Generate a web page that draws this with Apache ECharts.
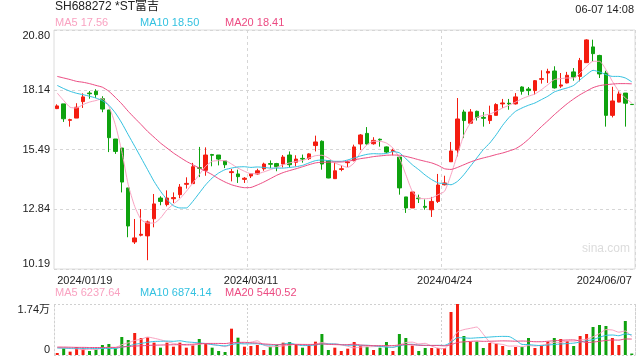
<!DOCTYPE html>
<html><head><meta charset="utf-8">
<script src="https://cdn.jsdelivr.net/npm/echarts@6/dist/echarts.min.js"></script>
<style>html,body{margin:0;padding:0;background:#fff}#c{width:640px;height:360px}</style>
</head><body><div id="c"></div>
<script>
const stockTitle = 'SH688272 *ST富吉';
const timeStamp = '06-07 14:08';
const dates = ['2024/01/19',
'2024/01/22','2024/01/23','2024/01/24','2024/01/25','2024/01/26',
'2024/01/29','2024/01/30','2024/01/31','2024/02/01','2024/02/02',
'2024/02/05','2024/02/06','2024/02/07','2024/02/08',
'2024/02/19','2024/02/20','2024/02/21','2024/02/22','2024/02/23',
'2024/02/26','2024/02/27','2024/02/28','2024/02/29','2024/03/01',
'2024/03/04','2024/03/05','2024/03/06','2024/03/07','2024/03/08',
'2024/03/11','2024/03/12','2024/03/13','2024/03/14','2024/03/15',
'2024/03/18','2024/03/19','2024/03/20','2024/03/21','2024/03/22',
'2024/03/25','2024/03/26','2024/03/27','2024/03/28','2024/03/29',
'2024/04/01','2024/04/02','2024/04/03',
'2024/04/08','2024/04/09','2024/04/10','2024/04/11','2024/04/12',
'2024/04/15','2024/04/16','2024/04/17','2024/04/18','2024/04/19',
'2024/04/22','2024/04/23','2024/04/24','2024/04/25','2024/04/26',
'2024/04/29','2024/04/30',
'2024/05/06','2024/05/07','2024/05/08','2024/05/09','2024/05/10',
'2024/05/13','2024/05/14','2024/05/15','2024/05/16','2024/05/17',
'2024/05/20','2024/05/21','2024/05/22','2024/05/23','2024/05/24',
'2024/05/27','2024/05/28','2024/05/29','2024/05/30','2024/05/31',
'2024/06/03','2024/06/04','2024/06/05','2024/06/06','2024/06/07'];
const xLabelDates = ['2024/01/19','2024/03/11','2024/04/24','2024/06/07'];
const xLineDates = ['2024/03/11','2024/04/24'];

const opens = [17.31,17.52,16.79,16.89,17.62,18.00,18.08,17.75,17.25,15.96,
15.56,13.79,11.39,11.69,11.66,12.42,13.34,13.05,13.31,13.49,
13.95,13.98,14.69,14.57,15.27,15.25,14.99,14.47,14.41,14.17,
14.32,14.41,14.64,14.87,14.87,14.85,15.25,14.93,15.10,15.09,
15.67,15.86,15.00,14.20,14.61,14.91,15.00,15.74,16.21,15.75,
15.95,15.61,15.41,15.16,13.39,12.90,13.34,12.97,12.82,13.19,
13.93,14.95,15.47,17.16,16.66,17.19,16.92,16.78,17.01,17.52,
17.55,17.52,18.27,18.18,18.11,18.61,18.89,18.98,18.31,18.45,
18.94,18.74,19.35,20.05,19.67,18.89,17.01,17.60,18.00,17.50];
const closes = [17.43,16.86,16.82,17.37,17.83,17.97,17.93,17.29,16.02,15.41,
14.05,12.10,11.57,11.73,12.28,13.08,13.19,13.34,13.36,13.83,
13.99,14.73,14.66,15.25,15.24,15.07,14.82,14.51,14.29,14.22,
14.42,14.55,14.85,14.84,14.73,15.16,14.82,15.07,15.07,15.30,
15.83,14.85,14.23,14.55,14.64,14.94,15.61,16.14,15.74,15.90,
15.92,15.38,15.46,13.79,12.90,13.61,13.31,12.93,13.19,13.92,
14.01,15.43,16.85,16.78,17.16,16.92,16.88,17.01,17.49,17.56,
17.52,17.83,18.08,18.11,18.55,18.64,18.96,18.23,18.36,18.79,
18.71,19.45,20.36,19.75,18.85,17.01,17.65,17.96,17.55,17.49];
const lows = [17.29,16.72,16.51,16.89,17.34,17.75,17.78,17.15,15.38,15.30,
13.59,11.60,11.30,11.64,10.58,12.04,13.02,12.97,13.12,13.34,
13.76,13.98,14.27,14.33,14.75,14.79,14.67,14.08,14.01,14.01,
14.23,14.38,14.55,14.67,14.53,14.70,14.70,14.75,14.91,15.03,
15.41,14.60,14.22,14.20,14.53,14.72,14.97,15.47,15.71,15.71,
15.62,15.33,15.24,13.49,12.68,12.90,13.12,12.82,12.50,13.12,
13.90,14.94,15.19,16.00,16.66,16.78,16.51,16.63,17.01,17.34,
17.26,17.49,17.93,17.90,17.93,18.42,18.45,18.20,18.23,18.43,
18.55,18.52,19.35,19.41,18.67,16.51,16.92,17.59,16.51,17.49];
const highs = [17.50,17.52,16.86,17.55,17.99,18.09,18.17,17.86,17.25,15.96,
15.56,13.79,12.41,12.85,12.34,13.52,13.42,13.68,13.59,13.96,
14.26,14.90,15.61,15.59,15.30,15.25,15.01,14.63,14.60,14.27,
14.45,14.64,14.91,15.01,14.90,15.25,15.41,15.24,15.27,15.33,
16.11,15.90,15.00,14.90,14.79,15.00,15.71,16.18,16.49,16.04,
15.98,15.63,15.53,15.16,13.39,13.64,13.49,13.28,13.39,14.41,
14.33,15.83,17.78,17.26,17.29,17.22,17.16,17.44,17.55,17.74,
17.74,18.00,18.30,18.27,18.58,19.01,19.08,19.19,18.89,18.94,
19.11,19.56,20.39,20.37,19.70,18.99,18.28,18.08,18.00,17.50];

const ma5 = [18.00,17.67,17.37,17.34,17.49,17.60,17.67,17.75,17.41,16.60,
15.41,13.93,12.97,12.38,12.23,12.23,12.45,12.82,13.07,13.31,
13.64,14.01,14.38,14.75,14.97,15.00,15.00,14.85,14.67,14.53,
14.42,14.42,14.50,14.60,14.70,14.82,14.90,14.97,15.01,15.12,
15.22,15.24,15.12,14.90,14.79,14.70,14.90,15.38,15.71,15.86,
15.86,15.78,15.56,15.12,14.38,13.64,13.34,13.31,13.34,13.49,
13.64,14.38,15.27,16.15,16.67,16.92,17.01,17.07,17.19,17.34,
17.46,17.60,17.75,17.86,17.96,18.15,18.37,18.60,18.64,18.67,
18.67,18.89,19.19,19.41,19.41,19.04,18.52,18.08,17.78,17.56];
const ma10 = [18.34,18.20,18.08,17.99,17.93,17.86,17.78,17.66,17.46,17.12,
16.67,16.15,15.64,15.12,14.60,14.08,13.64,13.27,13.00,12.90,
12.90,13.19,13.56,13.93,14.23,14.45,14.60,14.67,14.72,14.73,
14.70,14.72,14.70,14.67,14.67,14.67,14.70,14.73,14.79,14.90,
15.00,15.03,15.00,14.97,14.97,15.03,15.12,15.21,15.28,15.31,
15.30,15.32,15.40,15.35,15.09,14.82,14.60,14.36,14.16,14.01,
13.98,13.93,14.08,14.38,14.75,15.12,15.49,15.78,16.15,16.57,
16.92,17.19,17.34,17.46,17.56,17.71,17.86,18.05,18.15,18.23,
18.34,18.59,18.82,19.01,18.94,18.82,18.74,18.74,18.67,18.50];
const ma20 = [18.74,18.67,18.60,18.52,18.48,18.42,18.34,18.26,18.08,17.81,
17.52,17.19,16.89,16.60,16.30,16.04,15.78,15.56,15.34,15.15,
14.97,14.82,14.67,14.53,14.38,14.20,14.05,13.93,13.85,13.80,
13.81,13.92,14.05,14.20,14.35,14.47,14.56,14.64,14.73,14.82,
14.90,14.93,14.93,14.94,14.94,14.97,15.03,15.09,15.13,15.18,
15.21,15.24,15.25,15.24,15.19,15.12,15.04,14.97,14.90,14.79,
14.64,14.61,14.70,14.82,14.94,15.04,15.12,15.19,15.27,15.34,
15.43,15.53,15.71,15.95,16.23,16.51,16.77,17.04,17.29,17.53,
17.74,17.93,18.09,18.24,18.33,18.37,18.40,18.42,18.42,18.41];

const volumes = [680,2270,1140,2730,2270,1360,1930,3410,3750,2270,
6140,5120,7500,5800,6030,4210,2500,4210,2840,4210,
2500,3300,5460,3870,2500,1360,1020,8980,5910,2840,
3070,3410,1710,2840,3410,4210,4430,3640,2500,3300,
4550,7160,1710,2500,1360,2160,4430,3180,2840,1710,
2500,4430,1360,7160,5800,3180,1360,2390,2390,2390,
2390,14670,17400,6480,4550,4550,2390,4090,3870,3070,
1710,2730,2730,5800,2390,3180,4550,5800,5460,4780,
3070,6480,7160,9550,10230,9890,5800,3410,11600,500];
const volMa5 = [2500,2400,2200,2100,1820,1960,1890,2340,2550,2550,
3500,4140,4960,5370,6120,5730,5210,4550,3960,3590,
3250,3410,3660,3870,3530,3300,2840,3550,3960,4030,
4370,4840,3390,2780,2890,3120,3320,3710,3640,3620,
3680,4230,3840,3840,3460,2980,2430,2730,2800,2870,
2930,2930,2570,3430,4250,4390,3780,3980,3030,2340,
2180,4840,7850,8670,9100,9530,7070,4410,3890,3590,
3030,3090,2820,3210,3070,3370,3730,4340,4280,4750,
4730,5120,5390,6210,7300,8660,8530,7780,8190,6237.64];
const volMa10 = [2400,2350,2300,2300,2250,2250,2200,2200,2200,2180,
2730,3010,3650,3960,4330,4620,4670,4750,4660,4860,
4490,4310,4110,3910,3560,3280,3130,3600,3910,3780,
3830,3840,3470,3370,3460,3740,4080,3550,3210,3250,
3400,3780,3780,3740,3540,3330,3330,3290,3320,3160,
2960,2680,2650,3120,3560,3660,3360,3280,3230,3300,
3290,4310,5910,5850,5720,5860,5960,6130,6280,6350,
6280,5080,3620,3550,3330,3200,3410,3580,3740,3910,
4050,4420,4870,5240,6030,6700,6820,6580,7200,6874.14];
const volMa20 = [2700,2700,2650,2600,2600,2550,2550,2550,2600,2600,
2750,2900,3050,3150,3250,3350,3400,3450,3500,3520,
3610,3660,3880,3940,3950,3950,3900,4180,4290,4320,
4160,4080,3790,3640,3510,3510,3610,3580,3560,3510,
3620,3810,3620,3550,3500,3540,3710,3420,3260,3210,
3180,3230,3210,3430,3550,3500,3340,3280,3280,3230,
3120,3500,4280,4480,4640,4760,4660,4700,4750,4820,
4780,4700,4770,4700,4530,4530,4690,4860,5010,5130,
5160,4750,4240,4400,4680,4950,5120,5080,5470,5440.52];
const priceTicks = [10.19, 12.84, 15.49, 18.14, 20.80];
const volTicks = [0, 17400];
const volTickLabels = ['0', '1.74万'];

const RED = '#f41c10', GREEN = '#0ea20e';
const C5 = '#f9a2c1', C10 = '#33c1e0', C20 = '#ec4b82';
const FONT = "'Liberation Sans','Noto Sans CJK SC',sans-serif";

const chart = echarts.init(document.getElementById('c'), null, {renderer: 'canvas'});
const last = dates.length - 1;
const txt = (left, top, text, color, size) => ({type: 'text', left, top,
  style: {text, fill: color, font: size + 'px ' + FONT}});

chart.setOption({
  animation: false,
  backgroundColor: '#fff',
  grid: [
    {left: 54, right: 5, top: 30, height: 239, show: true, borderColor: '#dcdcdc', borderWidth: 1},
    {left: 54, right: 5, top: 304, height: 51}
  ],
  xAxis: [
    {gridIndex: 0, type: 'category', data: dates, boundaryGap: true,
     axisLine: {show: false}, axisTick: {show: false},
     axisLabel: {show: true, color: '#222', fontSize: 11, fontFamily: FONT, margin: 6,
       interval: (i, v) => xLabelDates.includes(v),
       alignMinLabel: 'left', alignMaxLabel: 'right'},
     splitLine: {show: true, interval: (i, v) => xLineDates.includes(v),
       lineStyle: {color: '#d6d6d6', type: [3, 3]}}},
    {gridIndex: 1, type: 'category', data: dates, boundaryGap: true,
     axisLine: {show: false}, axisTick: {show: false}, axisLabel: {show: false},
     splitLine: {show: true, interval: (i, v) => xLineDates.includes(v),
       lineStyle: {color: '#d0d0d0', type: [2, 2]}}}
  ],
  yAxis: [
    {gridIndex: 0, type: 'value', min: priceTicks[0], max: priceTicks[priceTicks.length - 1],
     interval: (priceTicks[priceTicks.length - 1] - priceTicks[0]) / (priceTicks.length - 1),
     axisLine: {show: false}, axisTick: {show: false},
     splitLine: {show: true, lineStyle: {color: '#d6d6d6', type: [3, 3]}},
     axisLabel: {color: '#222', fontSize: 11, fontFamily: FONT, margin: 4,
       verticalAlignMinLabel: 'bottom', verticalAlignMaxLabel: 'top',
       formatter: v => { const t = priceTicks.find(p => Math.abs(p - v) < 0.05); return t === undefined ? '' : t.toFixed(2); }}},
    {gridIndex: 1, type: 'value', min: volTicks[0], max: volTicks[1], interval: volTicks[1] - volTicks[0],
     axisLine: {show: true, lineStyle: {color: '#d0d0d0', type: [2, 2]}}, axisTick: {show: false},
     splitLine: {show: true, lineStyle: {color: '#d0d0d0', type: [2, 2]}},
     axisLabel: {color: '#222', fontSize: 11, fontFamily: FONT, margin: 4,
       verticalAlignMinLabel: 'bottom', verticalAlignMaxLabel: 'top',
       formatter: v => (Math.abs(v - volTicks[0]) < 1 ? volTickLabels[0] : volTickLabels[1])}},
    {gridIndex: 1, type: 'value', position: 'right', min: volTicks[0], max: volTicks[1],
     axisLine: {show: true, lineStyle: {color: '#d0d0d0', type: [2, 2]}}, axisTick: {show: false},
     axisLabel: {show: false}, splitLine: {show: false}}
  ],
  series: [
    {type: 'candlestick', xAxisIndex: 0, yAxisIndex: 0, barWidth: 4,
     data: dates.map((d, i) => [opens[i], closes[i], lows[i], highs[i]]),
     itemStyle: {color: RED, color0: GREEN, borderColor: RED, borderColor0: GREEN, borderWidth: 1}},
    {type: 'line', xAxisIndex: 0, yAxisIndex: 0, data: ma5, showSymbol: false, smooth: 0.2,
     lineStyle: {width: 1, color: C5}},
    {type: 'line', xAxisIndex: 0, yAxisIndex: 0, data: ma10, showSymbol: false, smooth: 0.2,
     lineStyle: {width: 1, color: C10}},
    {type: 'line', xAxisIndex: 0, yAxisIndex: 0, data: ma20, showSymbol: false, smooth: 0.2,
     lineStyle: {width: 1, color: C20}},
    {type: 'bar', xAxisIndex: 1, yAxisIndex: 1, barWidth: 3,
     data: volumes.map((v, i) => ({value: v, itemStyle: {color: closes[i] >= opens[i] ? RED : GREEN}}))},
    {type: 'line', xAxisIndex: 1, yAxisIndex: 1, data: volMa5, showSymbol: false, smooth: 0.2,
     lineStyle: {width: 1, color: C5}},
    {type: 'line', xAxisIndex: 1, yAxisIndex: 1, data: volMa10, showSymbol: false, smooth: 0.2,
     lineStyle: {width: 1, color: C10}},
    {type: 'line', xAxisIndex: 1, yAxisIndex: 1, data: volMa20, showSymbol: false, smooth: 0.2,
     lineStyle: {width: 1, color: C20}}
  ],
  graphic: [
    txt(55, 1, stockTitle, '#222', 12),
    {type: 'text', right: 6, top: 4, style: {text: timeStamp, fill: '#222', font: '11px ' + FONT}},
    txt(55, 17, 'MA5 ' + ma5[last].toFixed(2), C5, 11),
    txt(140, 17, 'MA10 ' + ma10[last].toFixed(2), C10, 11),
    txt(225, 17, 'MA20 ' + ma20[last].toFixed(2), C20, 11),
    txt(55, 287, 'MA5 ' + volMa5[last].toFixed(2), C5, 11),
    txt(140, 287, 'MA10 ' + volMa10[last].toFixed(2), C10, 11),
    txt(225, 287, 'MA20 ' + volMa20[last].toFixed(2), C20, 11),
    txt(582, 243, 'sina.com', '#dcdcdc', 12)
  ]
});
</script></body></html>
